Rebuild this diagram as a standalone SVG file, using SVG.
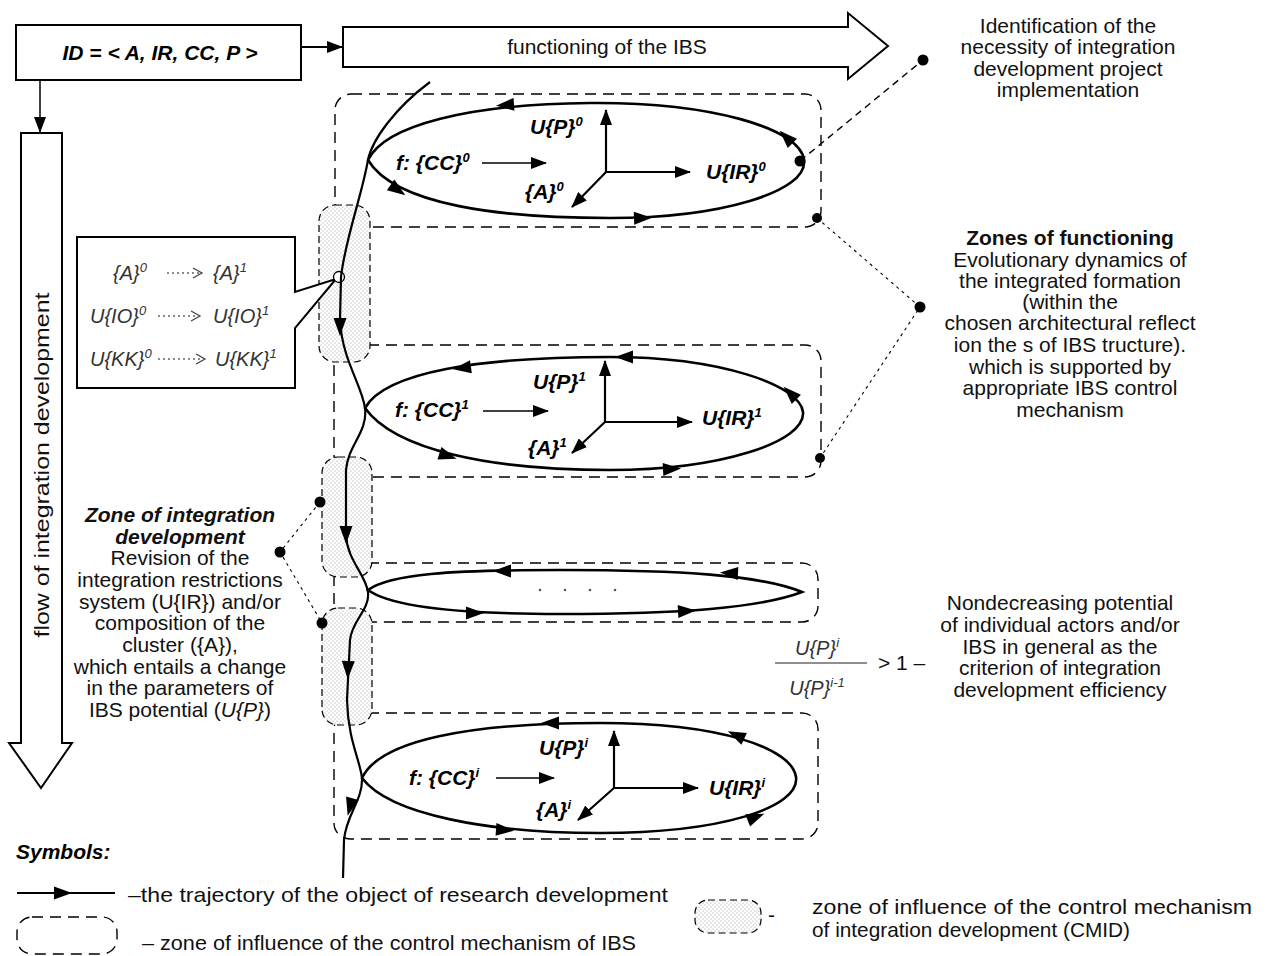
<svg xmlns="http://www.w3.org/2000/svg" width="1266" height="956" viewBox="0 0 1266 956">
<style>
.box{fill:#fff;stroke:#000;stroke-width:2}
.traj{fill:none;stroke:#000;stroke-width:2.2}
.loop{fill:none;stroke:#000;stroke-width:2.6}
.zone{fill:none;stroke:#000;stroke-width:1.4;stroke-dasharray:11 7}
.cmid{fill:url(#dots);stroke:#000;stroke-width:1.2;stroke-dasharray:7 4}
.lead{fill:none;stroke:#000;stroke-width:1.4;stroke-dasharray:7 5}
.lead2{fill:none;stroke:#000;stroke-width:1.1;stroke-dasharray:3 4}
.axis{fill:none;stroke:#000;stroke-width:2.2;marker-end:url(#tri)}
.thin{fill:none;stroke:#000;stroke-width:1.3;marker-end:url(#tri)}
.dot{fill:#000}
.lbl{font-family:"Liberation Sans",Arial,sans-serif;font-size:21px;font-weight:bold;font-style:italic}
.t{font-family:"Liberation Sans",Arial,sans-serif;font-size:21px;text-anchor:middle;fill:#111}
.ti{font-family:"Liberation Sans",Arial,sans-serif;font-size:20px;font-style:italic;fill:#333}
.lg{font-family:"Liberation Sans",Arial,sans-serif;font-size:21px;fill:#111}
.sup{font-size:13px}
.chev{fill:none;stroke:#444;stroke-width:1.3}
.dl{stroke:#666;stroke-width:1.3;stroke-dasharray:2 3}
</style>
<defs>
<pattern id="dots" width="4" height="4" patternUnits="userSpaceOnUse">
<rect width="4" height="4" fill="#fff"/>
<circle cx="1" cy="1" r="0.6" fill="#999"/>
<circle cx="3" cy="3" r="0.6" fill="#999"/>
</pattern>
<marker id="tri" markerWidth="16" markerHeight="12" refX="15" refY="6" orient="auto" markerUnits="userSpaceOnUse">
<path d="M0,0 L16,6 L0,12 Z" fill="#000"/>
</marker>
<path id="ah" d="M9,0 L-9,-6.5 L-9,6.5 Z" fill="#000"/>
</defs>

<g id="id-box">
<rect class="box" x="16" y="25" width="285" height="55"/>
<text class="lbl" x="160" y="60" text-anchor="middle" font-size="19">ID = &lt; A, IR, CC, P &gt;</text>
</g>

<g id="functioning-arrow">
<polygon class="box" points="343,27 848,27 848,13 888,46 848,79 848,67 343,67"/>
<text class="t" x="607" y="54" font-size="19">functioning of the IBS</text>
</g>

<g id="flow-arrow">
<polygon class="box" points="21,133 62,133 62,743 72,743 41,788 9,743 21,743"/>
<text class="t" transform="translate(49,465) rotate(-90)" font-size="20" textLength="345" lengthAdjust="spacingAndGlyphs">flow of integration development</text>
</g>

<g id="zones-ibs">
<rect class="zone" x="335" y="94" width="486" height="133" rx="16"/>
<rect class="zone" x="334" y="345" width="487" height="132" rx="16"/>
<rect class="zone" x="334" y="563" width="484" height="59" rx="16"/>
<rect class="zone" x="334" y="713" width="484" height="126" rx="16"/>
</g>

<g id="zones-cmid">
<rect class="cmid" x="319" y="205" width="51" height="157" rx="16"/>
<rect class="cmid" x="322" y="457" width="50" height="120" rx="16"/>
<rect class="cmid" x="322" y="608" width="50" height="117" rx="16"/>
</g>

<g id="callout">
<polygon class="box" points="77,237 295,237 295,292 336,279 295,328 295,388 77,388"/>
<circle cx="339" cy="277" r="5.5" fill="#fff" stroke="#000" stroke-width="1.3"/>
<text class="ti" x="113" y="280">{A}<tspan class="sup" dy="-8">0</tspan></text>
<line class="dl" x1="167" y1="273" x2="200" y2="273"/>
<polyline class="chev" points="193,268 202,273 193,278"/>
<text class="ti" x="213" y="280">{A}<tspan class="sup" dy="-8">1</tspan></text>
<text class="ti" x="90" y="323">U{IO}<tspan class="sup" dy="-8">0</tspan></text>
<line class="dl" x1="158" y1="316" x2="198" y2="316"/>
<polyline class="chev" points="191,311 200,316 191,321"/>
<text class="ti" x="213" y="323">U{IO}<tspan class="sup" dy="-8">1</tspan></text>
<text class="ti" x="90" y="366">U{KK}<tspan class="sup" dy="-8">0</tspan></text>
<line class="dl" x1="158" y1="359" x2="203" y2="359"/>
<polyline class="chev" points="196,354 205,359 196,364"/>
<text class="ti" x="215" y="366">U{KK}<tspan class="sup" dy="-8">1</tspan></text>
</g>

<g id="loop-0">
<path class="loop" d="M368,160 C385,125 470,104 590,103 C710,102 800,128 804,160 C808,192 720,218 610,218 C500,218 395,205 368,160 Z"/>
<use href="#ah" transform="translate(505,105) rotate(176)"/>
<use href="#ah" transform="translate(786,137) rotate(225)"/>
<use href="#ah" transform="translate(398,190) rotate(35)"/>
<use href="#ah" transform="translate(643,218) rotate(-2)"/>
<line class="axis" x1="606" y1="172" x2="606" y2="110"/>
<line class="axis" x1="606" y1="172" x2="690" y2="172"/>
<line class="axis" x1="606" y1="172" x2="572" y2="207"/>
<line class="thin" x1="482" y1="163" x2="546" y2="163"/>
<text class="lbl" x="396" y="170">f: {CC}<tspan class="sup" dy="-8">0</tspan></text>
<text class="lbl" x="530" y="134">U{P}<tspan class="sup" dy="-8">0</tspan></text>
<text class="lbl" x="706" y="179">U{IR}<tspan class="sup" dy="-8">0</tspan></text>
<text class="lbl" x="525" y="199">{A}<tspan class="sup" dy="-8">0</tspan></text>
</g>

<g id="loop-1">
<path class="loop" d="M365,408 C385,372 480,357 610,357 C720,357 800,385 803,412 C806,442 720,470 610,470 C490,470 395,450 365,408 Z"/>
<use href="#ah" transform="translate(462,368) rotate(172)"/>
<use href="#ah" transform="translate(624,357) rotate(180)"/>
<use href="#ah" transform="translate(790,393) rotate(225)"/>
<use href="#ah" transform="translate(448,456) rotate(18)"/>
<use href="#ah" transform="translate(672,469) rotate(-3)"/>
<line class="axis" x1="605" y1="422" x2="605" y2="361"/>
<line class="axis" x1="605" y1="422" x2="692" y2="422"/>
<line class="axis" x1="605" y1="422" x2="572" y2="453"/>
<line class="thin" x1="483" y1="411" x2="548" y2="411"/>
<text class="lbl" x="395" y="417">f: {CC}<tspan class="sup" dy="-8">1</tspan></text>
<text class="lbl" x="533" y="389">U{P}<tspan class="sup" dy="-8">1</tspan></text>
<text class="lbl" x="702" y="425">U{IR}<tspan class="sup" dy="-8">1</tspan></text>
<text class="lbl" x="528" y="455">{A}<tspan class="sup" dy="-8">1</tspan></text>
</g>

<g id="loop-2">
<path class="loop" d="M368,590 C390,574 450,570 560,570 C680,570 760,575 802,592 C760,608 680,614 560,614 C450,614 390,606 368,590 Z"/>
<use href="#ah" transform="translate(502,571) rotate(180)"/>
<use href="#ah" transform="translate(729,573) rotate(183)"/>
<use href="#ah" transform="translate(475,613) rotate(0)"/>
<use href="#ah" transform="translate(687,611) rotate(-3)"/>
<circle cx="540" cy="590" r="1.3" fill="#555"/>
<circle cx="565" cy="590" r="1.3" fill="#555"/>
<circle cx="590" cy="590" r="1.3" fill="#555"/>
<circle cx="615" cy="590" r="1.3" fill="#555"/>
</g>

<g id="loop-i">
<path class="loop" d="M362,778 C380,740 470,723 600,723 C720,723 792,748 796,777 C800,808 720,833 600,833 C490,833 390,815 362,778 Z"/>
<use href="#ah" transform="translate(550,723) rotate(180)"/>
<use href="#ah" transform="translate(736,735) rotate(205)"/>
<use href="#ah" transform="translate(505,830) rotate(4)"/>
<use href="#ah" transform="translate(756,817) rotate(-22)"/>
<line class="axis" x1="614" y1="788" x2="614" y2="731"/>
<line class="axis" x1="614" y1="788" x2="698" y2="788"/>
<line class="axis" x1="614" y1="788" x2="578" y2="820"/>
<line class="thin" x1="496" y1="778" x2="554" y2="778"/>
<text class="lbl" x="409" y="785">f: {CC}<tspan class="sup" dy="-8">i</tspan></text>
<text class="lbl" x="539" y="755">U{P}<tspan class="sup" dy="-8">i</tspan></text>
<text class="lbl" x="709" y="795">U{IR}<tspan class="sup" dy="-8">i</tspan></text>
<text class="lbl" x="536" y="817">{A}<tspan class="sup" dy="-8">i</tspan></text>
</g>

<g id="connectors">
<line x1="301" y1="47" x2="342" y2="47" stroke="#000" stroke-width="2" marker-end="url(#tri)"/>
<line x1="40" y1="80" x2="40" y2="132" stroke="#000" stroke-width="1.5" marker-end="url(#tri)"/>
<path class="traj" d="M430,82 C395,108 372,140 368,160 C362,195 345,240 341,277 L340,320 C342,360 362,385 365,408 C368,432 348,445 346,470 L346,535 C347,560 366,575 368,592 C370,610 352,620 350,640 L347,700 C348,740 360,760 362,778 C363,800 346,815 344,840 L343,878"/>
<use href="#ah" transform="translate(340,327) rotate(90)"/>
<use href="#ah" transform="translate(346,535) rotate(90)"/>
<use href="#ah" transform="translate(348,670) rotate(92)"/>
<use href="#ah" transform="translate(350,807) rotate(105)"/>
<polyline class="lead" points="800,161 923,60"/>
<polyline class="lead2" points="817,218 920,307 820,458"/>
<polyline class="lead2" points="320,502 280,552 322,623"/>
<circle class="dot" cx="923" cy="60" r="5.5"/>
<circle class="dot" cx="800" cy="161" r="5.5"/>
<circle class="dot" cx="817" cy="218" r="5"/>
<circle class="dot" cx="920" cy="307" r="5.5"/>
<circle class="dot" cx="820" cy="458" r="5"/>
<circle class="dot" cx="320" cy="502" r="5.5"/>
<circle class="dot" cx="280" cy="552" r="5.5"/>
<circle class="dot" cx="322" cy="623" r="5.5"/>
</g>

<g id="note-identification">
<text class="t" x="1068" y="33">Identification of the</text>
<text class="t" x="1068" y="54">necessity of integration</text>
<text class="t" x="1068" y="76">development project</text>
<text class="t" x="1068" y="97">implementation</text>
</g>

<g id="note-functioning">
<text class="t" x="1070" y="245" font-weight="bold">Zones of functioning</text>
<text class="t" x="1070" y="267">Evolutionary dynamics of</text>
<text class="t" x="1070" y="288">the integrated formation</text>
<text class="t" x="1070" y="309">(within the</text>
<text class="t" x="1070" y="330">chosen architectural reflect</text>
<text class="t" x="1070" y="352">ion the s of IBS tructure).</text>
<text class="t" x="1070" y="374">which is supported by</text>
<text class="t" x="1070" y="395">appropriate IBS control</text>
<text class="t" x="1070" y="417">mechanism</text>
</g>

<g id="note-integration">
<text class="t" x="180" y="522" font-weight="bold" font-style="italic">Zone of integration</text>
<text class="t" x="180" y="544" font-weight="bold" font-style="italic">development</text>
<text class="t" x="180" y="565">Revision of the</text>
<text class="t" x="180" y="587">integration restrictions</text>
<text class="t" x="180" y="609">system (U{IR}) and/or</text>
<text class="t" x="180" y="630">composition of the</text>
<text class="t" x="180" y="652">cluster ({A}),</text>
<text class="t" x="180" y="674">which entails a change</text>
<text class="t" x="180" y="695">in the parameters of</text>
<text class="t" x="180" y="717">IBS potential (<tspan font-style="italic">U{P}</tspan>)</text>
</g>

<g id="criterion">
<text class="ti" x="817" y="655" text-anchor="middle">U{P}<tspan class="sup" dy="-8">i</tspan></text>
<line x1="775" y1="663" x2="867" y2="663" stroke="#222" stroke-width="1.2"/>
<text class="ti" x="817" y="695" text-anchor="middle">U{P}<tspan class="sup" dy="-8">i-1</tspan></text>
<text class="lg" x="878" y="670" font-size="20">&gt; 1 –</text>
<text class="t" x="1060" y="610">Nondecreasing potential</text>
<text class="t" x="1060" y="632">of individual actors and/or</text>
<text class="t" x="1060" y="654">IBS in general as the</text>
<text class="t" x="1060" y="675">criterion of integration</text>
<text class="t" x="1060" y="697">development efficiency</text>
</g>

<g id="legend">
<text class="lbl" x="16" y="859">Symbols:</text>
<line x1="17" y1="893" x2="115" y2="893" stroke="#000" stroke-width="2"/>
<use href="#ah" transform="translate(63,893)"/>
<text class="lg" x="128" y="902" textLength="540" lengthAdjust="spacingAndGlyphs">–the trajectory of the object of research development</text>
<rect class="zone" x="17" y="917" width="100" height="37" rx="15" stroke-dasharray="14 10"/>
<text class="lg" x="142" y="950" textLength="494" lengthAdjust="spacingAndGlyphs">– zone of influence of the control mechanism of IBS</text>
<rect class="cmid" x="695" y="900" width="66" height="33" rx="13"/>
<text class="lg" x="768" y="922">-</text>
<text class="lg" x="812" y="914" textLength="440" lengthAdjust="spacingAndGlyphs">zone of influence of the control mechanism</text>
<text class="lg" x="812" y="937" textLength="318" lengthAdjust="spacingAndGlyphs">of integration development  (CMID)</text>
</g>
</svg>
